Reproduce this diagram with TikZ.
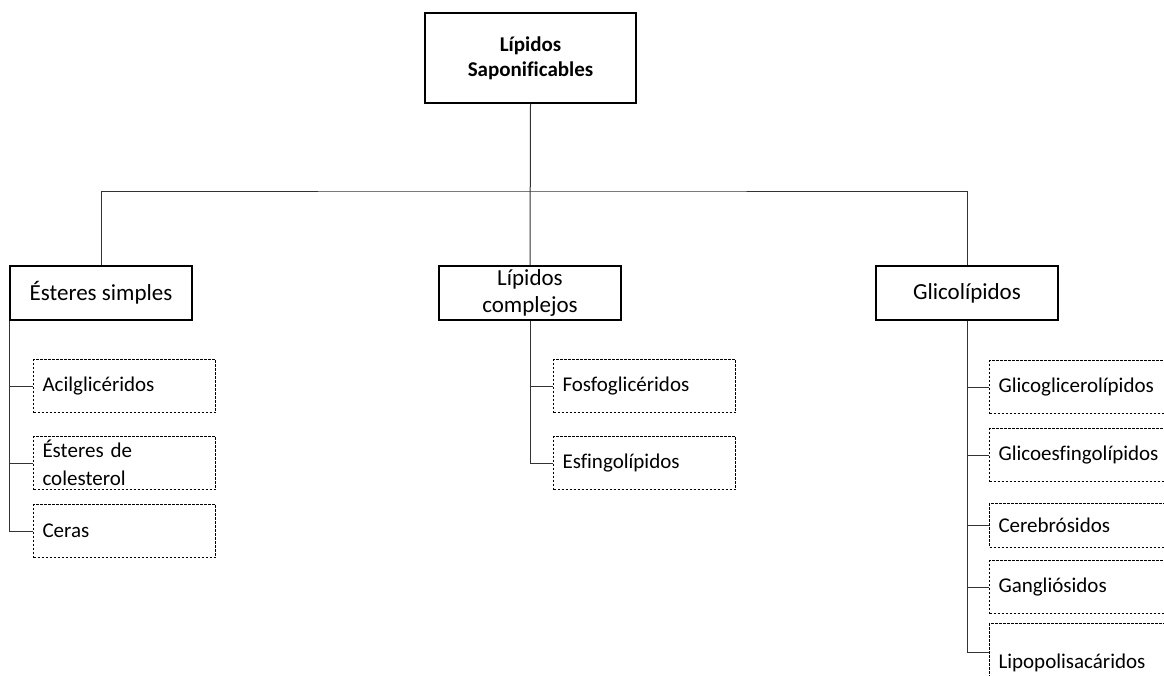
\documentclass[tikz,border=0pt]{standalone}
\usepackage{fontspec}
\setmainfont{Carlito}[Ligatures=CommonOff]
\usetikzlibrary{positioning}
\tikzset{root-block/.style=
   {rectangle,
    draw,
    line width=1.2pt,
    align=center,
    font=\bfseries\fontsize{21}{25}\selectfont,
    minimum width=211pt,
    minimum height=90pt}}
\tikzset{class-block/.style=
   {rectangle,
    draw,
    line width=1.2pt,
    align=center,
    font=\fontsize{23}{27}\selectfont,
    inner sep=0pt,
    minimum width=182pt,
    minimum height=54pt}}
\tikzset{leaf-block/.style=
   {rectangle,
    draw,
    dash pattern=on 2.5pt off 1.5pt,
    line width=1pt,
    align=left,
    font=\fontsize{21}{28}\selectfont,
    text width=164pt,
    inner xsep=9pt,
    inner ysep=0pt,
    minimum height=53pt}}
\tikzset{link/.style = {draw, line width=1pt, black!80}}

\begin{document}
\begin{tikzpicture}[x=1pt, y=-1pt]
    \useasboundingbox (0,0) rectangle (1164,675);

    \node [root-block] (root) at (530.5,58)
    {L\'ipidos\\ Saponificables};

    \node [class-block] (esteres) at (101,293) {\'Esteres simples};
    \node [class-block] (complejos) at (530,293) {L\'ipidos\\ complejos};
    \node [class-block] (glico) at (967,293) {Glicol\'ipidos};

    % left column
    \node [leaf-block,
           anchor=west] (acil) at (33,386) {Acilglic\'eridos};

    \node [leaf-block,
           node distance = 77pt,
           below = of acil.west,
           anchor=west] (colest) {\'Esteres de\\ colesterol};

    \node [leaf-block,
           node distance = 68pt,
           below = of colest.west,
           anchor=west] (ceras) {Ceras};

    % middle column
    \node [leaf-block,
           anchor=west] (fosfo) at (553,386) {Fosfoglic\'eridos};

    \node [leaf-block,
           node distance = 77pt,
           below = of fosfo.west,
           anchor=west] (esfingo) {Esfingol\'ipidos};

    % right column
    \node [leaf-block,
           anchor=west] (glicoglic) at (989,387) {Glicoglicerol\'ipidos};

    \node [leaf-block,
           node distance = 68pt,
           below = of glicoglic.west,
           anchor=west] (glicoesf) {Glicoesfingol\'ipidos};

    \node [leaf-block,
           minimum height=44pt,
           node distance = 70pt,
           below = of glicoesf.west,
           anchor=west] (cerebro) {Cerebr\'osidos};

    \node [leaf-block,
           node distance = 62pt,
           below = of cerebro.west,
           anchor=west] (gangli) {Gangli\'osidos};

    \node [leaf-block,
           minimum height=80pt,
           node distance = 76pt,
           below = of gangli.west,
           anchor=west] (lipo) {Lipopolisac\'aridos};

    % connectors
    \coordinate (split) at (530,191);
    \draw [link] (root.south) -- (complejos.north);
    \draw [link] (esteres.north) |- (split) -| (glico.north);

    \draw [link] (esteres.south west) |- (ceras.west);
    \foreach \leaf in {acil, colest}
        \draw [link] (esteres.south west |- \leaf.west) -- (\leaf.west);

    \draw [link] (complejos.south) |- (esfingo.west);
    \draw [link] (complejos.south |- fosfo.west) -- (fosfo.west);

    \draw [link] (glico.south) |- ([yshift=11pt]lipo.west);
    \foreach \leaf in {glicoglic, glicoesf, cerebro, gangli}
        \draw [link] (glico.south |- \leaf.west) -- (\leaf.west);

\end{tikzpicture}
\end{document}
